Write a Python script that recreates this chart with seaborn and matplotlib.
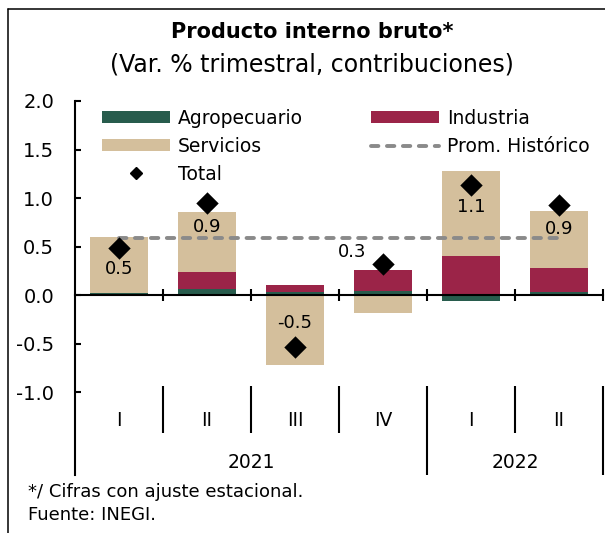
import numpy as np
import matplotlib.pyplot as plt
import seaborn as sns
from matplotlib.patches import Patch
from matplotlib.lines import Line2D

# Datos (contribuciones a la variación % trimestral del PIB)
periodos = ["I-2021", "II-2021", "III-2021", "IV-2021", "I-2022", "II-2022"]
trimestres = ["I", "II", "III", "IV", "I", "II"]
anios = ["2021", "2022"]
agropecuario = [0.02, 0.06, 0.03, 0.04, -0.06, 0.03]
industria = [0.00, 0.18, 0.08, 0.22, 0.40, 0.25]
servicios = [0.58, 0.62, -0.72, -0.18, 0.88, 0.585]
total = [0.49, 0.95, -0.53, 0.32, 1.14, 0.93]
etiquetas_total = ["0.5", "0.9", "-0.5", "0.3", "1.1", "0.9"]
prom_historico = [0.59, 0.59, 0.59, 0.59, 0.59, 0.59]

VERDE = "#285c4d"
GUINDA = "#9b2448"
ARENA = "#d4bf9c"
GRIS = "#8a8a8a"
GUIONES = (0, (1.9, 2.2))

sns.set_theme(style="white")
plt.rcParams["font.family"] = ["DejaVu Sans"]
plt.rcParams["text.color"] = "black"

fig = plt.figure(figsize=(6.05, 5.33), dpi=100)
ax = fig.add_axes([75 / 605, 1 - 475 / 533, 528 / 605, 374 / 533])

# ─────────────────────────────────────────────
# BARRAS APILADAS (positivas hacia arriba, negativas hacia abajo)
# ─────────────────────────────────────────────
base_pos = np.zeros(len(periodos))
base_neg = np.zeros(len(periodos))
for valores, color in [(agropecuario, VERDE), (industria, GUINDA), (servicios, ARENA)]:
    v = np.array(valores)
    bottom = np.where(v >= 0, base_pos, base_neg)
    sns.barplot(x=periodos, y=v, bottom=bottom, color=color, saturation=1,
                width=0.67, errorbar=None, ax=ax, zorder=2,
                linewidth=0, edgecolor="none")
    base_pos = base_pos + np.where(v >= 0, v, 0)
    base_neg = base_neg + np.where(v < 0, v, 0)

# promedio histórico
sns.lineplot(x=periodos, y=prom_historico, color=GRIS, linewidth=2.8,
             linestyle=GUIONES, dash_capstyle="round", ax=ax, zorder=3)

# total
sns.scatterplot(x=periodos, y=total, marker="D", s=130, color="black",
                linewidth=0, ax=ax, zorder=4, legend=False)

desplaz = [(0, -15), (0, -17), (0, 17), (-22, 9), (0, -16), (0, -17)]
for i, (val, txt) in enumerate(zip(total, etiquetas_total)):
    ax.annotate(txt, (i, val), xytext=desplaz[i], textcoords="offset points",
                ha="center", va="center", fontsize=13, color="black", zorder=5)

# ─────────────────────────────────────────────
# EJES
# ─────────────────────────────────────────────
ax.set_xlim(-0.5, len(periodos) - 0.5)
ax.set_ylim(-1.85, 2.0)
ax.set_yticks([-1.0, -0.5, 0.0, 0.5, 1.0, 1.5, 2.0])
ax.set_yticklabels([f"{t:.1f}" for t in ax.get_yticks()])
ax.set_xticks(np.arange(len(periodos)) + 0.5)
ax.set_xticklabels([])
ax.set_xlabel("")
ax.set_ylabel("")

for s in ["top", "right"]:
    ax.spines[s].set_visible(False)
ax.spines["bottom"].set_position(("data", 0))
ax.spines["bottom"].set_zorder(6)
for s in ["left", "bottom"]:
    ax.spines[s].set_color("black")
    ax.spines[s].set_linewidth(1.5)

ax.tick_params(axis="y", direction="in", length=4, width=1.5, pad=15,
               labelsize=14, left=True, colors="black")
ax.tick_params(axis="x", direction="inout", length=8.5, width=1.5,
               bottom=True, labelbottom=False, colors="black")

# separadores de trimestres y años
ax.vlines([0.5, 1.5, 2.5, 4.5], -0.93, -1.42, color="black", lw=1.5, clip_on=False)
ax.vlines([3.5, 5.5], -0.93, -1.85, color="black", lw=1.5, clip_on=False)
for i, q in enumerate(trimestres):
    ax.text(i, -1.29, q, ha="center", va="center", fontsize=13.5, color="black")
ax.text(1.5, -1.72, anios[0], ha="center", va="center", fontsize=13.5, color="black")
ax.text(4.5, -1.72, anios[1], ha="center", va="center", fontsize=13.5, color="black")

# ─────────────────────────────────────────────
# LEYENDA
# ─────────────────────────────────────────────
handles = [
    Patch(facecolor=VERDE, edgecolor="none"),
    Patch(facecolor=ARENA, edgecolor="none"),
    Line2D([], [], marker="D", color="black", linestyle="none", markersize=6.5),
    Patch(facecolor=GUINDA, edgecolor="none"),
    Line2D([], [], color=GRIS, linewidth=2.8, linestyle=GUIONES, dash_capstyle="round"),
]
labels = ["Agropecuario", "Servicios", "Total", "Industria", "Prom. Histórico"]
leg = ax.legend(handles, labels, ncol=2, loc="upper left",
                bbox_to_anchor=(102 / 605, 1 - 109 / 533), bbox_transform=fig.transFigure,
                frameon=False, fontsize=13.5, handlelength=3.6, handleheight=0.6,
                handletextpad=0.45, labelspacing=0.47, columnspacing=3.65,
                borderpad=0, borderaxespad=0)
for t in leg.get_texts():
    t.set_color("black")

# ─────────────────────────────────────────────
# TÍTULOS, NOTAS Y MARCO
# ─────────────────────────────────────────────
fig.text(0.516, 1 - 32 / 533, "Producto interno bruto*", ha="center", va="center",
         fontsize=15, fontweight="bold")
fig.text(0.516, 1 - 64 / 533, "(Var. % trimestral, contribuciones)", ha="center",
         va="center", fontsize=17)
fig.text(28 / 605, 1 - 492 / 533, "*/ Cifras con ajuste estacional.", va="center",
         fontsize=13)
fig.text(28 / 605, 1 - 515 / 533, "Fuente: INEGI.", va="center", fontsize=13)

fig.add_artist(Line2D([8 / 605, 8 / 605], [0, 1 - 9 / 533], transform=fig.transFigure,
                      color="black", lw=1.1))
fig.add_artist(Line2D([8 / 605, 1], [1 - 9 / 533, 1 - 9 / 533], transform=fig.transFigure,
                      color="black", lw=1.1))

fig.savefig("out.png", dpi=100)
